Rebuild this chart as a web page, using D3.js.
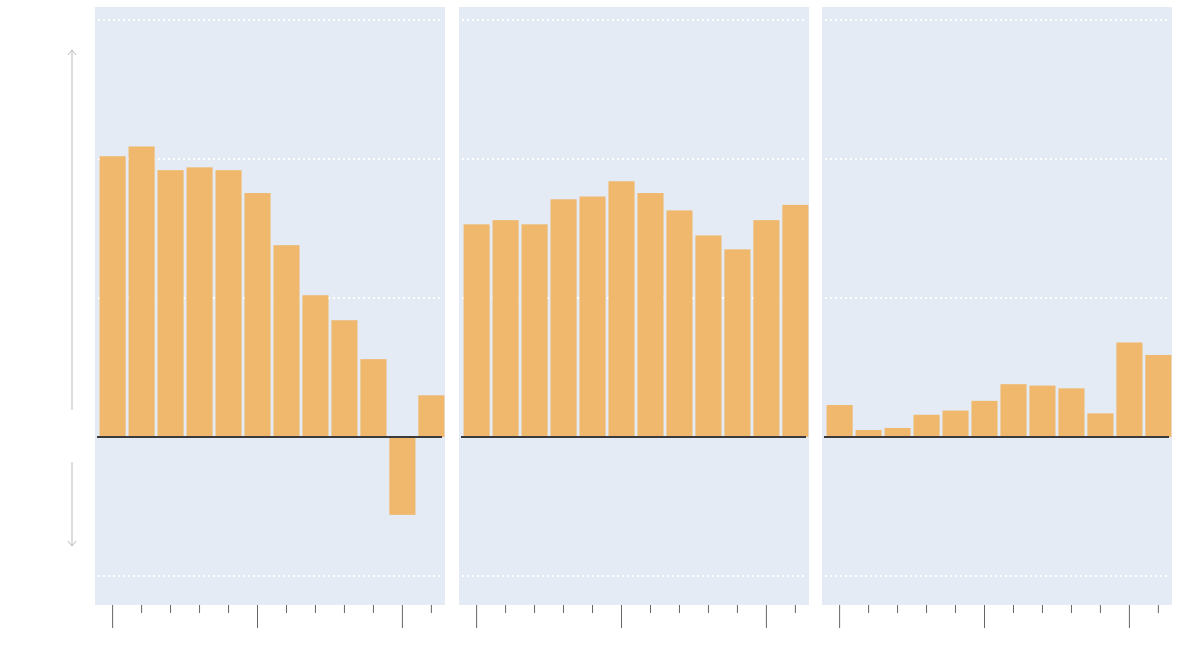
<!DOCTYPE html>
<html><head><meta charset="utf-8">
<script src="https://cdn.jsdelivr.net/npm/d3@7"></script>
<style>body{margin:0;background:#fff}</style>
</head><body>
<script>
// data
const periods = d3.range(12);
const panelA = [2.02, 2.09, 1.92, 1.94, 1.92, 1.755, 1.38, 1.02, 0.84, 0.56, -0.56, 0.30];
const panelB = [1.53, 1.56, 1.53, 1.71, 1.73, 1.84, 1.755, 1.63, 1.45, 1.35, 1.56, 1.67];
const panelC = [0.23, 0.05, 0.065, 0.16, 0.19, 0.26, 0.38, 0.37, 0.35, 0.17, 0.68, 0.59];
const gridVals = [-1, 1, 2, 3];
const panels = [panelA, panelB, panelC];
const panelX = [95, 459, 822];

const w = 1200, h = 670;
const pw = 350, panelTop = 7, panelBottom = 605;

const svg = d3.select("body").append("svg").attr("width", w).attr("height", h);

const yScale = d3.scaleLinear().domain([-1, 3]).range([576, 20]);

panels.forEach(function(vals, p) {
  const x0 = panelX[p];
  const xScale = d3.scaleBand().domain(periods).range([x0 + 4, x0 + pw]).paddingInner(0.1).paddingOuter(0.02);
  const g = svg.append("g");

  g.append("rect").attr("x", x0).attr("y", panelTop).attr("width", pw).attr("height", panelBottom - panelTop).attr("fill", "#e4ebf4");

  g.selectAll(".grid").data(gridVals).enter().append("line")
    .attr("x1", x0 + 3).attr("x2", x0 + pw - 3)
    .attr("y1", d => yScale(d)).attr("y2", d => yScale(d))
    .attr("stroke", "#fff").attr("stroke-width", 2).attr("stroke-dasharray", "2,3");

  g.selectAll(".bar").data(vals).enter().append("rect")
    .attr("x", (d, i) => xScale(i))
    .attr("width", xScale.bandwidth())
    .attr("y", d => yScale(Math.max(0, d)))
    .attr("height", d => Math.abs(yScale(d) - yScale(0)))
    .attr("fill", "#efb86d");

  g.append("line").attr("x1", x0 + 2).attr("x2", x0 + pw - 3)
    .attr("y1", yScale(0)).attr("y2", yScale(0))
    .attr("stroke", "#3a3a3a").attr("stroke-width", 2);

  g.selectAll(".tick").data(periods).enter().append("line")
    .attr("x1", i => xScale(i) + xScale.bandwidth() / 2)
    .attr("x2", i => xScale(i) + xScale.bandwidth() / 2)
    .attr("y1", panelBottom).attr("y2", i => i % 5 === 0 ? 628 : 613)
    .attr("stroke", "#666").attr("stroke-width", 1);
});

// arrows on the left
const arrow = svg.append("g").attr("stroke", "#bbb").attr("fill", "none").attr("stroke-width", 1);
arrow.append("line").attr("x1", 72).attr("x2", 72).attr("y1", 410).attr("y2", 50);
arrow.append("path").attr("d", "M68,55 L72,50 L76,55");
arrow.append("line").attr("x1", 72).attr("x2", 72).attr("y1", 462).attr("y2", 546);
arrow.append("path").attr("d", "M68,541 L72,546 L76,541");
</script>
</body></html>
